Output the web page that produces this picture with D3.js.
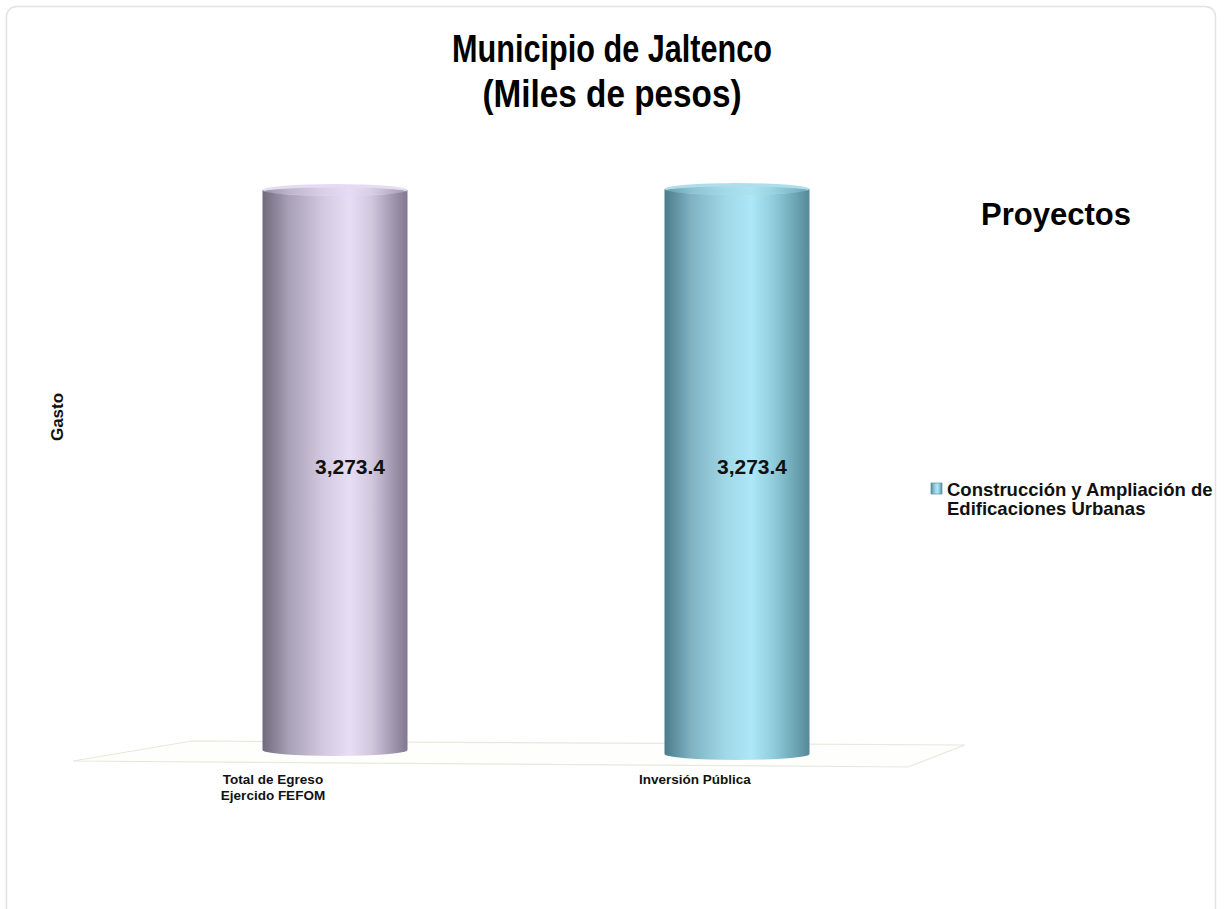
<!DOCTYPE html>
<html><head><meta charset="utf-8">
<script src="https://cdn.jsdelivr.net/npm/d3@7"></script>
<style>body{margin:0;background:#fff;}svg{display:block;font-family:"Liberation Sans",Arial,sans-serif;}</style>
</head><body>
<svg id="c" width="1224" height="909"></svg>
<script>
const categories = ["Total de Egreso\nEjercido FEFOM", "Inversión Pública"];
const values = [3273.4, 3273.4];
const valueLabels = ["3,273.4", "3,273.4"];
const legendLabel = ["Construcción y Ampliación de", "Edificaciones Urbanas"];
const titleLines = ["Municipio de Jaltenco", "(Miles de pesos)"];

const svg = d3.select("#c");
const defs = svg.append("defs");

// panel
svg.append("rect").attr("x",6.5).attr("y",6.5).attr("width",1209).attr("height",920).attr("rx",10)
  .attr("fill","#fff").attr("stroke","#e2e2e2").attr("stroke-width",1.5);

const palettes = [
  {id:"g0", stops:["#6f6a7c","#a8a0b6","#d3c9e0","#e7ddf5","#d2c8de","#9a90a8","#817890"], top:"#e4d9f2"},
  {id:"g1", stops:["#4a7b8b","#7eb2c1","#a0d8e7","#ade7f8","#90cddc","#68a0b0","#55889a"], top:"#aadcea"}
];
const offs = [0,0.18,0.42,0.6,0.75,0.92,1];
palettes.forEach(p=>{
  const g = defs.append("linearGradient").attr("id",p.id).attr("x1","0").attr("x2","1").attr("y1","0").attr("y2","0");
  p.stops.forEach((c,i)=>g.append("stop").attr("offset",offs[i]).attr("stop-color",c));
});

// floor
const floor = [[192,741],[965,745],[908,767],[73,761]];
svg.append("path").attr("d", d3.line()(floor)+"Z").attr("fill","#fefefc").attr("stroke","#e8e8dc").attr("stroke-width",1.2);

const x = d3.scalePoint().domain(categories).range([335, 737]);
const y = d3.scaleLinear().domain([0, d3.max(values)]).range([750, 190]);
const bw = 145, ry = 6;
const baseShift = [0, 4];

categories.forEach((c,i)=>{
  const cx = x(c), v = values[i];
  const yb = y(0) + baseShift[i], yt = y(v) + (i===1? -1:0);
  const g = svg.append("g");
  g.append("path")
    .attr("d", `M${cx-bw/2},${yt} L${cx-bw/2},${yb} A${bw/2},${ry} 0 0 0 ${cx+bw/2},${yb} L${cx+bw/2},${yt} Z`)
    .attr("fill", `url(#${palettes[i].id})`);
  g.append("ellipse").attr("cx",cx).attr("cy",yt).attr("rx",bw/2).attr("ry",ry)
    .attr("fill", palettes[i].top).attr("opacity",0.95);
  g.append("ellipse").attr("cx",cx).attr("cy",yt+1.5).attr("rx",bw/2-2).attr("ry",ry-2)
    .attr("fill", `url(#${palettes[i].id})`).attr("opacity",0.6);
  svg.append("text").attr("x",cx+15).attr("y",y(v/2)+4)
    .attr("text-anchor","middle").attr("font-weight","bold").attr("font-size",21).attr("fill","#111")
    .text(valueLabels[i]);
});

// category labels
const labelOffset = [-62, -42];
categories.forEach((c,i)=>{
  const lines = c.split("\n");
  const t = svg.append("text").attr("text-anchor","middle").attr("font-weight","bold").attr("font-size",13.5).attr("fill","#111");
  lines.forEach((l,j)=>t.append("tspan").attr("x", x(c)+labelOffset[i]).attr("y", 784 + j*16).text(l));
});

// title (condensed)
const titleWidths = [320, 259];
titleLines.forEach((l,j)=>svg.append("text").attr("x",612).attr("y",62+j*45).attr("text-anchor","middle")
  .attr("textLength", titleWidths[j]).attr("lengthAdjust","spacingAndGlyphs")
  .attr("font-weight","bold").attr("font-size",38).attr("fill","#000").text(l));

// y axis title
svg.append("text").attr("transform","translate(63,417) rotate(-90)").attr("text-anchor","middle")
  .attr("font-weight","bold").attr("font-size",17).attr("fill","#111").text("Gasto");

// legend
svg.append("text").attr("x",1056).attr("y",225).attr("text-anchor","middle").attr("font-weight","bold")
  .attr("font-size",31).attr("fill","#000").text("Proyectos");
svg.append("rect").attr("x",931).attr("y",483).attr("width",11).attr("height",11).attr("fill","url(#g1)").attr("stroke","#6a9aab").attr("stroke-width",0.8);
const lt = svg.append("text").attr("font-weight","bold").attr("font-size",18.5).attr("fill","#111");
legendLabel.forEach((l,j)=>lt.append("tspan").attr("x",947).attr("y",496+j*19).text(l));
</script>
</body></html>
